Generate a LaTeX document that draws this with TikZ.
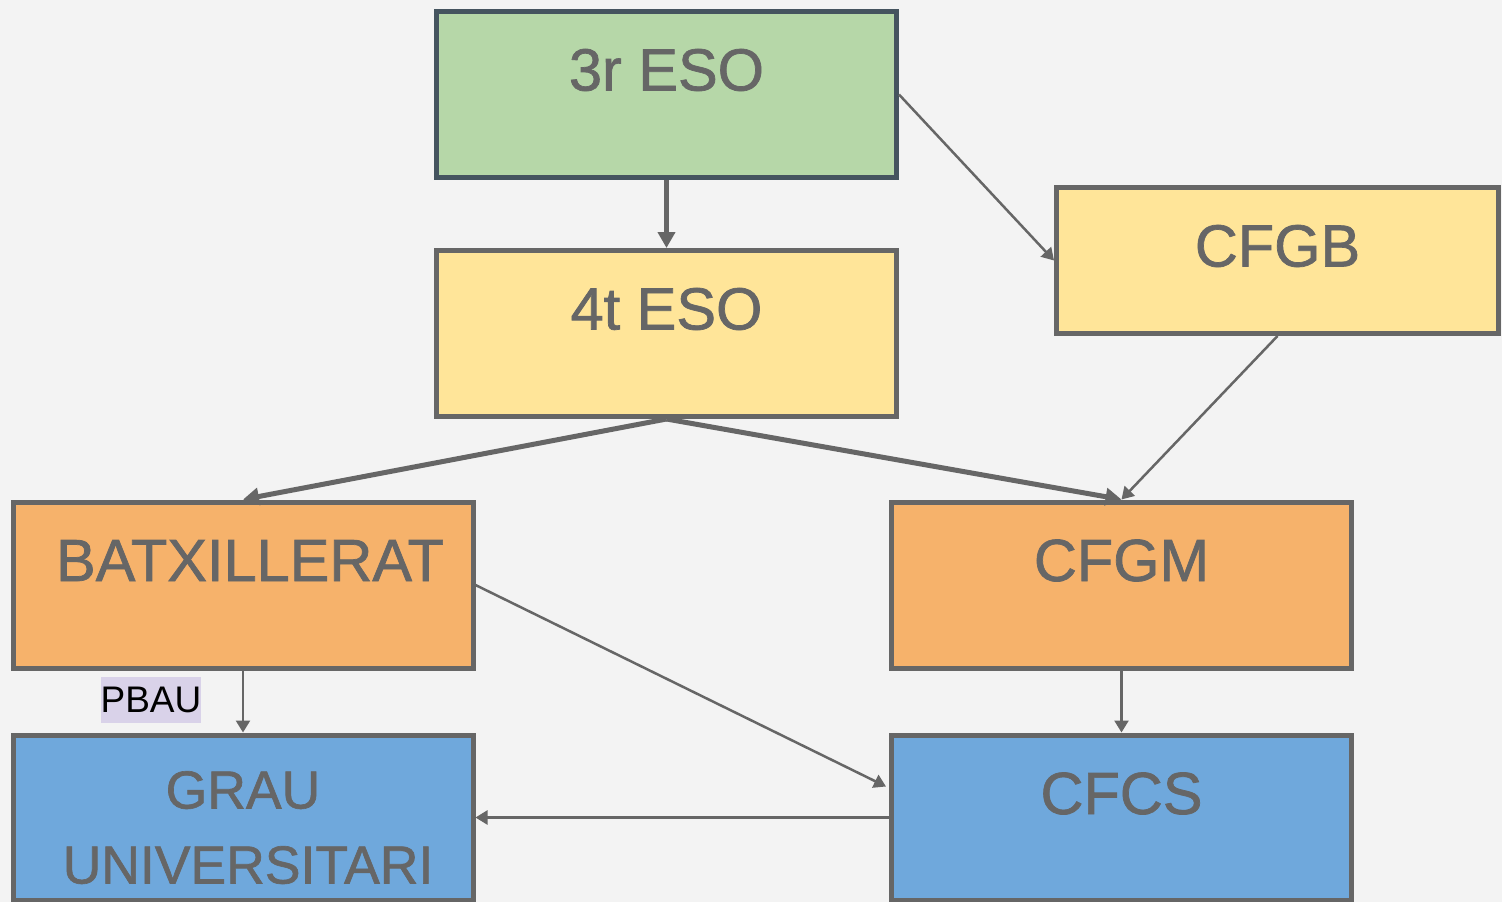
\documentclass[tikz,border=0pt]{standalone}
\usepackage{fontspec}
\setmainfont{Liberation Sans}
\newfontfamily\stagefont[FakeBold=1.2]{Liberation Sans}
\usetikzlibrary{arrows.meta}
\definecolor{bg}{HTML}{F3F3F3}
\definecolor{edge}{HTML}{666666}
\definecolor{slate}{HTML}{45545F}
\definecolor{greenbox}{HTML}{B6D7A8}
\definecolor{yellowbox}{HTML}{FFE599}
\definecolor{orangebox}{HTML}{F6B26B}
\definecolor{bluebox}{HTML}{6FA8DC}
\definecolor{lavender}{HTML}{D9D2E9}
\def\bw{460pt}
\tikzset{stage/.style={draw=edge,line width=5pt,minimum width=\bw,inner sep=0pt,text height=79pt,text depth=87pt,text=edge,font=\stagefont\fontsize{59.5}{75}\selectfont},
  flowthick/.style={draw=edge,line width=5pt,-{Triangle[length=16pt,width=17pt]}},
  flowthin/.style={draw=edge,line width=2.5pt,-{Triangle[length=12pt,width=14pt]}}}

\begin{document}
\begin{tikzpicture}[x=1pt,y=-1pt]
  \fill[bg] (0,0) rectangle (1502,902);
  \useasboundingbox (0,0) rectangle (1502,902);
  % rows of stages
  \node[stage,fill=greenbox,draw=slate] (eso3) at (666.5,94.5) {3r ESO};
  \node[stage,fill=yellowbox] (eso4) at (666.5,333.5) {4t ESO};
  \node[stage,fill=yellowbox,minimum width=442pt,text depth=67pt] (cfgb) at (1277.5,260.5) {CFGB};
  \node[stage,fill=orangebox] (batx) at (243,585) {\hspace*{14pt}BATXILLERAT};
  \node[stage,fill=orangebox] (cfgm) at (1121.5,585) {CFGM};
  \node[stage,fill=bluebox,align=center,text height=148.5pt,text depth=16.5pt,font=\stagefont\fontsize{53.5}{75}\selectfont] (grau) at (243,817.5) {GRAU\\\hspace*{10pt}UNIVERSITARI};
  \node[stage,fill=bluebox,text depth=86pt] (cfcs) at (1121.5,817.5) {CFCS};
  \node[fill=lavender,inner sep=0pt,minimum width=96pt,minimum height=46pt,font=\fontsize{37}{40}\selectfont] (pbau) at (151,700) {PBAU};
  % connectors
  \draw[flowthick] (eso3) -- (eso4);
  \draw[flowthick] (eso4.south) -- (batx.north);
  \draw[flowthick] (eso4.south) -- (cfgm.north);
  \draw[flowthin] (eso3.east) -- (cfgb.west);
  \draw[flowthin] (cfgb.south) -- (cfgm.north);
  \draw[flowthin] (batx.east) -- ([yshift=31pt,xshift=-3pt]cfcs.west);
  \draw[flowthin] (batx.south) -- (grau.north);
  \draw[flowthin] (cfgm.south) -- (cfcs.north);
  \draw[flowthin] (cfcs.west) -- (grau.east);
\end{tikzpicture}
\end{document}
